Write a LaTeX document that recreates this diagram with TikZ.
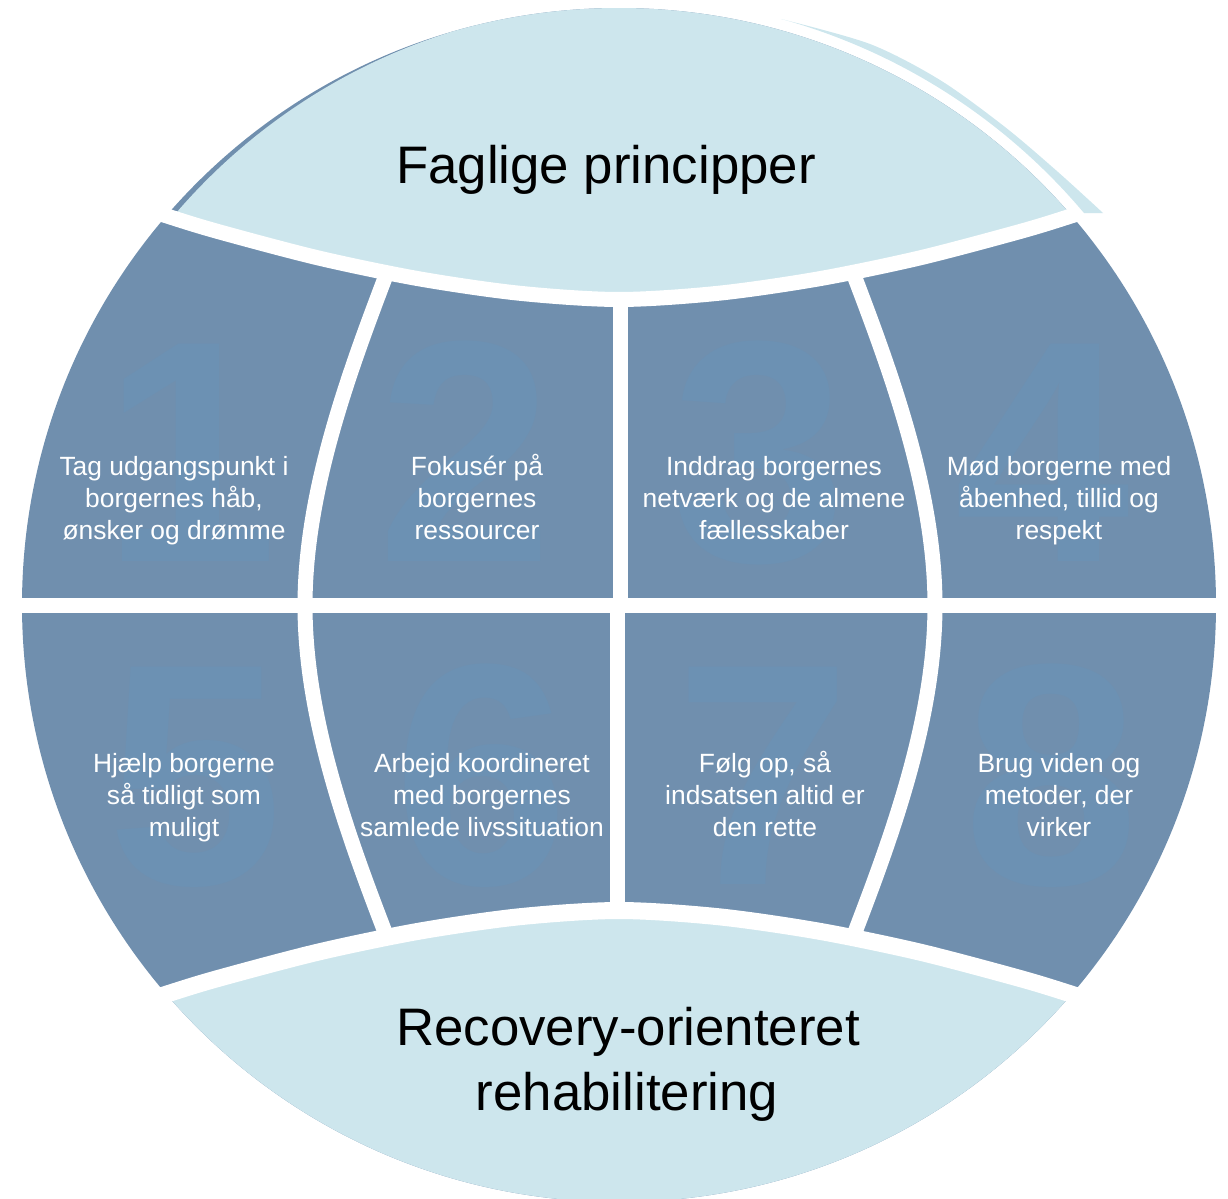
\documentclass[tikz,border=0pt]{standalone}
\usepackage{fontspec}
\setmainfont{Liberation Sans}
\definecolor{tilec}{HTML}{708FAE}
\definecolor{capc}{HTML}{CDE6ED}
\definecolor{digc}{HTML}{6C91B3}
\begin{document}
\begin{tikzpicture}[x=0.5pt,y=-0.5pt,
  gap/.style={draw=white, line width=7.5pt},
  tl/.style={text=white, font=\fontsize{13.2}{16}\selectfont, anchor=base, inner sep=0pt},
  ttl/.style={text=black, font=\fontsize{26.4}{32}\selectfont, anchor=base, inner sep=0pt},
  dig/.style={text=digc, font=\fontsize{158}{158}\selectfont\bfseries, anchor=base, inner sep=0pt}]
\useasboundingbox (0,0) rectangle (1228,1199);
% base disc
\fill[tilec] (619,605) circle[radius=597];
% faded numbers
\begin{scope}
  \clip (619,605) circle[radius=597];
  \node[dig] (d1) at (190,561) {1};
  \node[dig] (d2) at (465,561) {2};
  \node[dig] (d3) at (759,561) {3};
  \node[dig] (d4) at (1042,561) {4};
  \node[dig] (d5) at (195,884) {5};
  \node[dig] (d6) at (481,884) {6};
  \node[dig] (d7) at (763,884) {7};
  \node[dig] (d8) at (1051,884) {8};
\end{scope}
% top cap
\begin{scope}
  \clip (619,605) circle[radius=597];
  \clip (629,602) circle[radius=597];
  \fill[capc] plot[smooth] coordinates {(19,164) (99,193.4) (167,216) (219,231.8) (319,258.1) (419,278.8) (519,293.2) (619,299.5) (719,293.2) (819,278.8) (919,258.1) (1019,231.8) (1071,216) (1139,193.4) (1219,164)} -- (1219,0) -- (19,0) -- cycle;
\end{scope}
% bottom cap
\begin{scope}
  \clip (619,605) circle[radius=597];
  \fill[capc] plot[smooth] coordinates {(19,1046) (99,1016.6) (167,994) (219,978.2) (319,951.9) (419,931.2) (519,916.8) (619,910.5) (719,916.8) (819,931.2) (919,951.9) (1019,978.2) (1071,994) (1139,1016.6) (1219,1046)} -- (1219,1210) -- (19,1210) -- cycle;
\end{scope}
% white gaps
\draw[gap] plot[smooth] coordinates {(19,164) (99,193.4) (167,216) (219,231.8) (319,258.1) (419,278.8) (519,293.2) (619,299.5) (719,293.2) (819,278.8) (919,258.1) (1019,231.8) (1071,216) (1139,193.4) (1219,164)};
\draw[gap, line width=8.5pt] plot[smooth] coordinates {(19,1046) (99,1016.6) (167,994) (219,978.2) (319,951.9) (419,931.2) (519,916.8) (619,910.5) (719,916.8) (819,931.2) (919,951.9) (1019,978.2) (1071,994) (1139,1016.6) (1219,1046)};
\draw[gap] (0,605.5) -- (1228,605.5);
\draw[gap] (620,299.5) -- (620,605.5);
\draw[gap] (617,605.5) -- (617,910.5);
\draw[gap] (387,272.6) .. controls (350,370) and (305,490) .. (305,605.5) .. controls (305,721) and (350,841) .. (387,937.4);
\draw[gap] (853,272.6) .. controls (890,370) and (935,490) .. (935,605.5) .. controls (935,721) and (890,841) .. (853,937.4);
% outer sliver at top right
\fill[capc] plot[smooth] coordinates {(781,19) (870,44) (940,80) (1005,127) (1058,172) (1103,213)} -- (1084,213) arc[start angle=-40.14, end angle=-74.5, radius=608] -- cycle;
% titles
\node[ttl] (title) at (606,183) {Faglige principper};
\node[ttl] (rec1) at (628,1045) {Recovery-orienteret};
\node[ttl] (rec2) at (627,1110) {rehabilitering};
% tile texts
\node[tl] (t1a) at (174,475) {Tag udgangspunkt i};
\node[tl] (t1b) at (174,507) {borgernes håb,};
\node[tl] (t1c) at (174,539) {ønsker og drømme};
\node[tl] (t2a) at (477,475) {Fokusér på};
\node[tl] (t2b) at (477,507) {borgernes};
\node[tl] (t2c) at (477,539) {ressourcer};
\node[tl] (t3a) at (774,475) {Inddrag borgernes};
\node[tl] (t3b) at (774,507) {netværk og de almene};
\node[tl] (t3c) at (774,539) {fællesskaber};
\node[tl] (t4a) at (1059,475) {Mød borgerne med};
\node[tl] (t4b) at (1059,507) {åbenhed, tillid og};
\node[tl] (t4c) at (1059,539) {respekt};
\node[tl] (t5a) at (184,772) {Hjælp borgerne};
\node[tl] (t5b) at (184,804) {så tidligt som};
\node[tl] (t5c) at (184,836) {muligt};
\node[tl] (t6a) at (482,772) {Arbejd koordineret};
\node[tl] (t6b) at (482,804) {med borgernes};
\node[tl] (t6c) at (482,836) {samlede livssituation};
\node[tl] (t7a) at (765,772) {Følg op, så};
\node[tl] (t7b) at (765,804) {indsatsen altid er};
\node[tl] (t7c) at (765,836) {den rette};
\node[tl] (t8a) at (1059,772) {Brug viden og};
\node[tl] (t8b) at (1059,804) {metoder, der};
\node[tl] (t8c) at (1059,836) {virker};
\end{tikzpicture}
\end{document}
